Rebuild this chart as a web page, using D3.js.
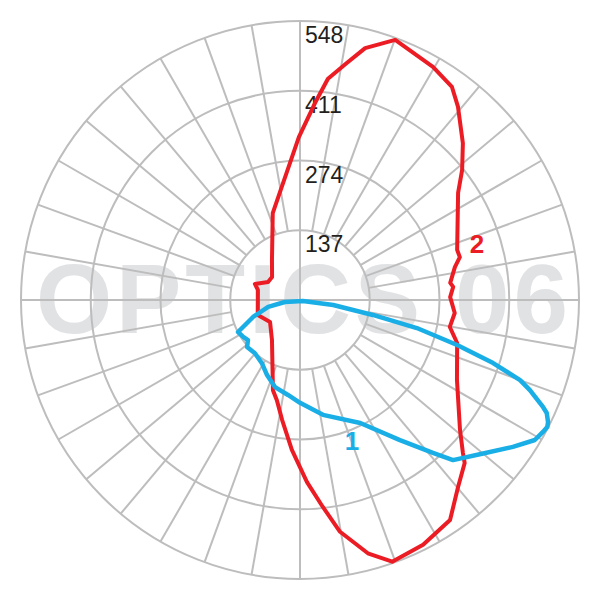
<!DOCTYPE html>
<html>
<head>
<meta charset="utf-8">
<script src="https://cdn.jsdelivr.net/npm/d3@7"></script>
<style>
  body { margin: 0; background: #fff; }
</style>
</head>
<body>
<div id="chart"></div>
<script>
// polar readings: [angle in degrees clockwise from top, value]
const curve1 = [
    [262.4, 30], [108.4, 6], [98.6, 66], [101.6, 146], [103.5, 236], [106.0, 321],
    [108.1, 399], [110.0, 460], [111.4, 485], [113.8, 522], [114.6, 533], [116.2, 543],
    [117.2, 546], [118.5, 543], [120.8, 537], [124.6, 508], [130.2, 468], [136.3, 435],
    [139.0, 398], [144.5, 338], [153.9, 269], [168.7, 230], [180.0, 202], [187.2, 188],
    [196.0, 178], [203.7, 161], [211.1, 145], [220.3, 137], [228.4, 139], [232.4, 129],
    [237.0, 133], [242.7, 137], [250.1, 98], [257.7, 64]
]
const curve2 = [
    [4.35, 388], [7.2, 438], [11.1, 474], [14.5, 511], [20.1, 544], [29.7, 527],
    [35.5, 514], [39.3, 490], [46.1, 444], [51.3, 408], [55.9, 375], [72.3, 324],
    [75.0, 325], [78.0, 311], [83.5, 297], [85.1, 302], [88.9, 295], [94.8, 305],
    [100.2, 299], [105.3, 320], [117.0, 346], [129.1, 405], [133.2, 439], [134.7, 455],
    [139.8, 481], [145.7, 523], [153.3, 538], [160.6, 545], [165.0, 515], [170.2, 462],
    [173.7, 409], [177.8, 358], [183.1, 295], [188.5, 238], [193.0, 202], [196.7, 185],
    [215.0, 96], [233.7, 73], [250.3, 88], [283.4, 85], [289.6, 94], [299.4, 72],
    [309.4, 71], [325.0, 96], [342.6, 179], [359.6, 320]
]
const ringValues = [137, 274, 411, 548]
const ringLabels = ["137", "274", "411", "548"]
const spokeAngles = d3.range(0, 360, 10)
const curveNames = ["1", "2"]
// where the curve numbers sit: [angle, value]
const namePositions = [[159.8, 295], [72.2, 365]]

const dimensions = {
    width: 600,
    height: 600,
    cx: 300,
    cy: 300,
    radius: 279,
}
const colors = {grid: "#bdbdbd", mark: "#e1e2e4", curve1: "#1aaee6", curve2: "#ec1c24"}

const svg = d3.select("#chart")
    .append("svg")
    .attr("width", dimensions.width)
    .attr("height", dimensions.height)

// watermark goes first so the grid sits on top of it
svg.append("text")
    .attr("x", 36)
    .attr("y", 333)
    .attr("textLength", 532)
    .attr("lengthAdjust", "spacing")
    .attr("font-family", "Liberation Sans, Arial, sans-serif")
    .attr("font-weight", "bold")
    .attr("font-size", 98)
    .attr("fill", colors.mark)
    .text("OPTICS 06")

const bounds = svg.append("g")
    .attr("transform", "translate(" + dimensions.cx + "," + dimensions.cy + ")")

const rScale = d3.scaleLinear()
    .domain([0, 548])
    .range([0, dimensions.radius])
const toRad = a => a * Math.PI / 180
const px = (a, v) => rScale(v) * Math.sin(toRad(a))
const py = (a, v) => -rScale(v) * Math.cos(toRad(a))

// grid
const grid = bounds.append("g")
    .attr("fill", "none")
    .attr("stroke", colors.grid)
    .attr("stroke-width", 2)
grid.selectAll("line")
    .data(spokeAngles)
    .join("line")
    .attr("x1", a => a % 90 === 0 ? 0 : px(a, ringValues[0]))
    .attr("y1", a => a % 90 === 0 ? 0 : py(a, ringValues[0]))
    .attr("x2", a => px(a, 548))
    .attr("y2", a => py(a, 548))
grid.selectAll("circle")
    .data(ringValues)
    .join("circle")
    .attr("r", d => rScale(d))

bounds.selectAll(".ring-label")
    .data(ringValues)
    .join("text")
    .attr("class", "ring-label")
    .attr("x", 5)
    .attr("y", d => -rScale(d) + 22)
    .attr("font-family", "Liberation Sans, Arial, sans-serif")
    .attr("font-size", 23)
    .attr("fill", "#231f20")
    .text((d, i) => ringLabels[i])

const lineGenerator = d3.lineRadial()
    .angle(d => toRad(d[0]))
    .radius(d => rScale(d[1]))
    .curve(d3.curveLinearClosed)

bounds.append("path")
    .attr("d", lineGenerator(curve2))
    .attr("fill", "none")
    .attr("stroke", colors.curve2)
    .attr("stroke-width", 4)
    .attr("stroke-linejoin", "round")
bounds.append("path")
    .attr("d", lineGenerator(curve1))
    .attr("fill", "none")
    .attr("stroke", colors.curve1)
    .attr("stroke-width", 4.5)
    .attr("stroke-linejoin", "round")

bounds.selectAll(".curve-name")
    .data(curveNames)
    .join("text")
    .attr("class", "curve-name")
    .attr("x", (d, i) => px(namePositions[i][0], namePositions[i][1]))
    .attr("y", (d, i) => py(namePositions[i][0], namePositions[i][1]))
    .attr("dy", "0.36em")
    .attr("text-anchor", "middle")
    .attr("font-family", "Liberation Sans, Arial, sans-serif")
    .attr("font-weight", "bold")
    .attr("font-size", 26)
    .attr("fill", (d, i) => i === 0 ? colors.curve1 : colors.curve2)
    .text(d => d)
</script>
</body>
</html>
